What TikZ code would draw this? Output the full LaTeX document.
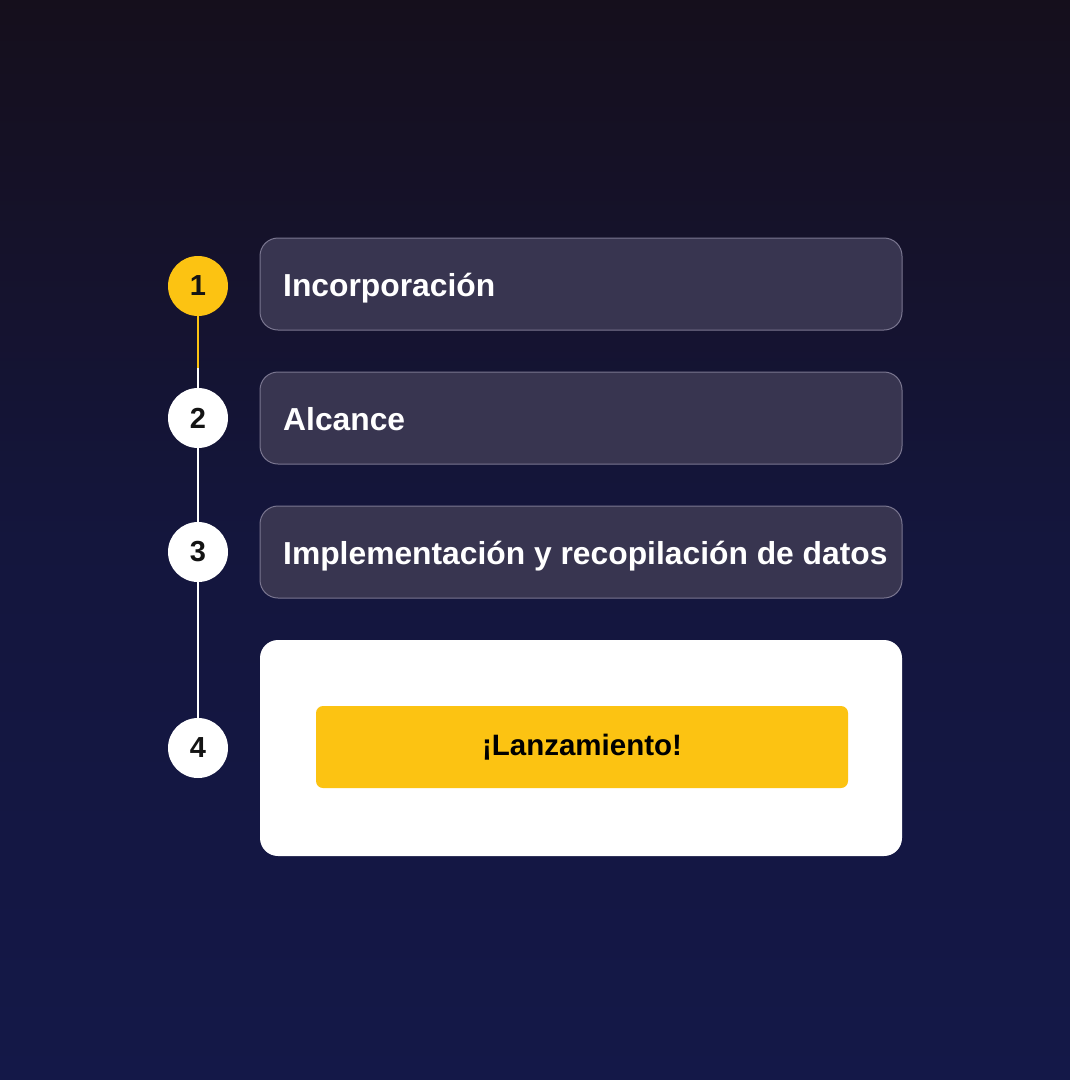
\documentclass[tikz,border=0pt]{standalone}
\usepackage{fontspec}
\setmainfont{Liberation Sans}
\definecolor{bgtop}{HTML}{150F1C}
\definecolor{bgbot}{HTML}{141848}
\definecolor{stepfill}{HTML}{383550}
\definecolor{stepline}{HTML}{7A7690}
\definecolor{gold}{HTML}{FCC312}
\definecolor{ink}{HTML}{141414}
\begin{document}
\begin{tikzpicture}[x=1pt, y=-1pt,
  num/.style={circle, minimum size=60pt, inner sep=0pt, fill=white, text=ink, font=\fontsize{29}{29}\selectfont\bfseries},
  stage/.style={rounded corners=18pt, fill=stepfill, draw=stepline, line width=1pt},
  label/.style={anchor=base west, text=white, font=\fontsize{31.8}{32}\selectfont\bfseries, inner sep=0pt},
  track/.style={line width=2pt}]
\useasboundingbox (0,0) rectangle (1070,1080);
\shade[top color=bgtop, bottom color=bgbot, middle color=bgbot!75!bgtop] (0,0) rectangle (1070,1080);
\draw[stage] (260,238) rectangle (902,330);
\draw[stage] (260,372) rectangle (902,464);
\draw[stage] (260,506) rectangle (902,598);
\node[label] (t1) at (283,296) {Incorporación};
\node[label] (t2) at (283,430) {Alcance};
\node[label] (t3) at (283,564) {Implementación y recopilación de datos};
\node[fill=white, rounded corners=18pt, minimum width=642pt, minimum height=216pt] (card) at (581,748) {};
\node[fill=gold, rounded corners=7pt, minimum width=532pt, minimum height=82pt, text=black, font=\fontsize{29.5}{30}\selectfont\bfseries] (launch) at (582,747) {¡Lanzamiento!};
\node[num, fill=gold] (n1) at (198,286) {1};
\node[num] (n2) at (198,418) {2};
\node[num] (n3) at (198,552) {3};
\node[num] (n4) at (198,748) {4};
\coordinate (split) at (198,368);
\draw[track, gold] (n1) -- (split);
\draw[track, white] (split) -- (n2);
\draw[track, white] (n2) -- (n3);
\draw[track, white] (n3) -- (n4);
\end{tikzpicture}
\end{document}
